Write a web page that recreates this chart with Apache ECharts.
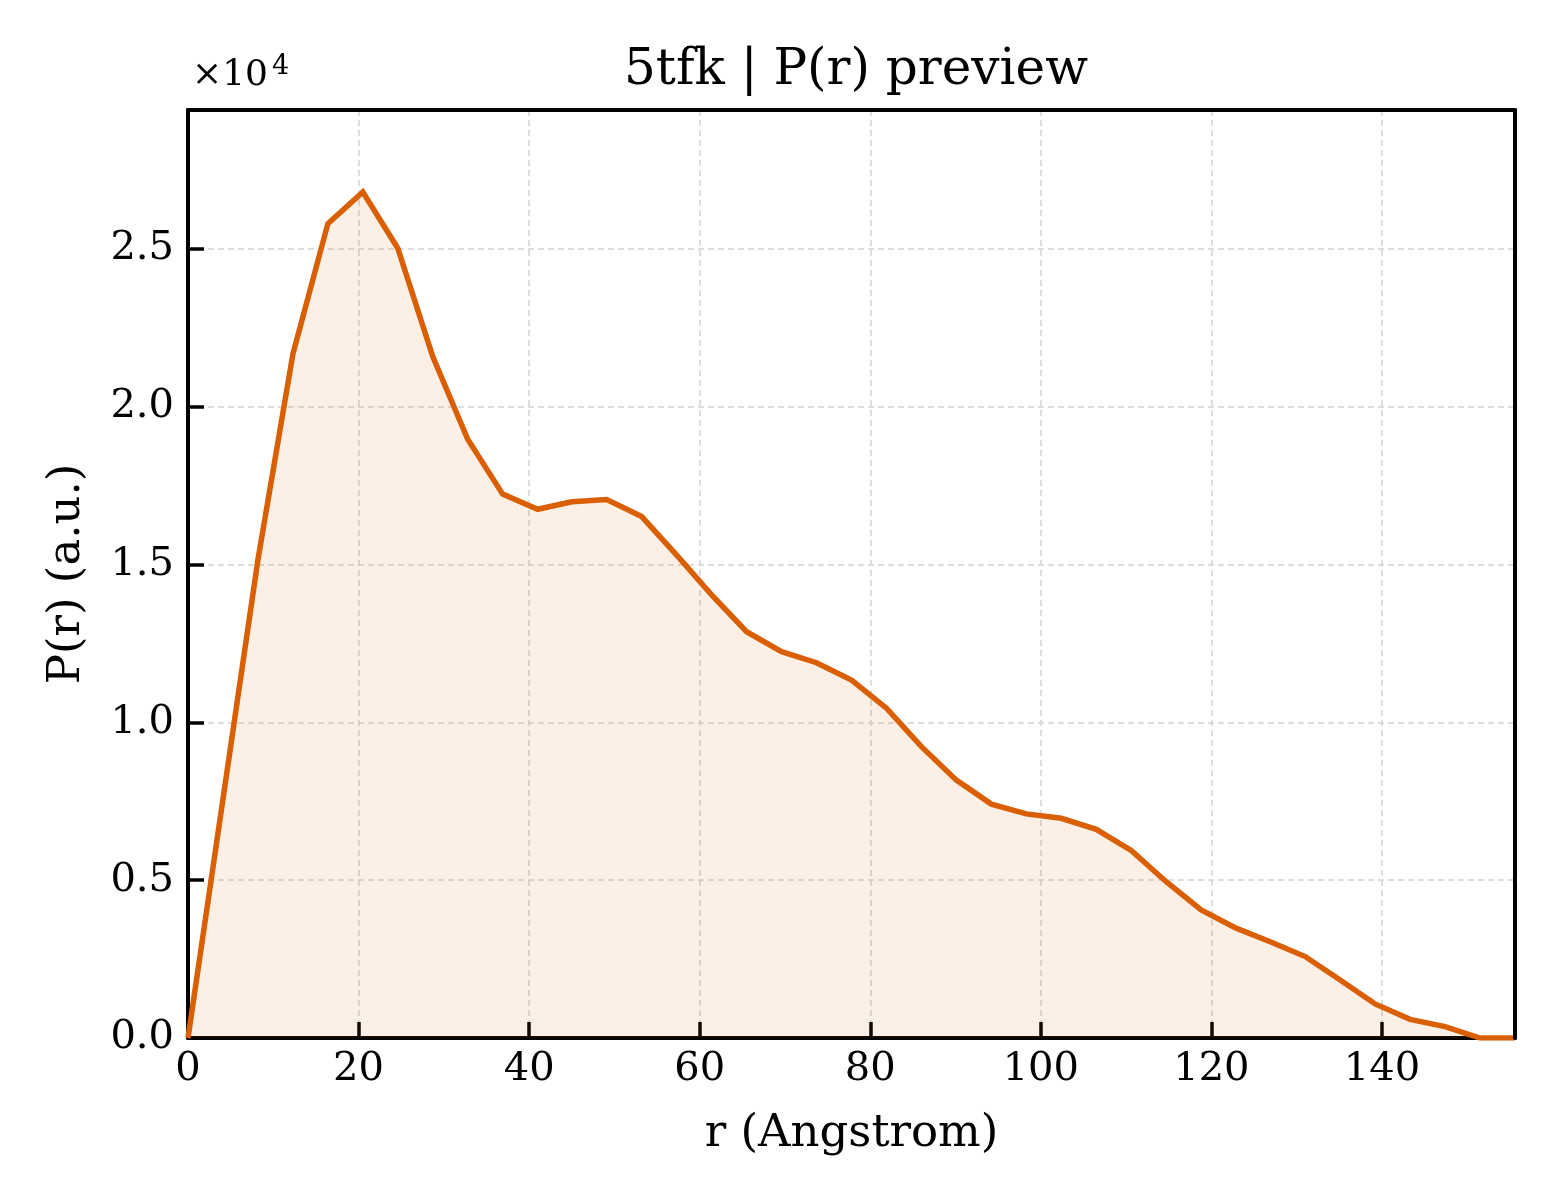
<!DOCTYPE html>
<html>
<head>
<meta charset="utf-8">
<title>5tfk | P(r) preview</title>
<script src="https://cdn.jsdelivr.net/npm/echarts@6/dist/echarts.min.js"></script>
<style>
    html, body { margin: 0; padding: 0; background: #fff; }
    #chart { width: 1560px; height: 1200px; }
</style>
</head>
<body>
<div id="chart"></div>
<script>
// r (Angstrom) and P(r)
var rValues = [0, 4.1, 8.2, 12.3, 16.4, 20.5, 24.6, 28.7, 32.8, 36.9,
    41.0, 45.0, 49.1, 53.2, 57.3, 61.4, 65.5, 69.6, 73.7, 77.8,
    81.9, 86.0, 90.1, 94.2, 98.3, 102.4, 106.5, 110.6, 114.7, 118.8,
    122.9, 126.9, 131.0, 135.1, 139.2, 143.3, 147.4, 151.5, 155.6];
var prValues = [0, 7570, 15150, 21670, 25800, 26800, 25020, 21590, 18970, 17230,
    16750, 16990, 17060, 16520, 15300, 14040, 12870, 12240, 11890, 11340,
    10450, 9230, 8170, 7410, 7100, 6960, 6610, 5940, 4950, 4060,
    3480, 3050, 2580, 1840, 1080, 590, 360, 0, 0];
var xTicks = [0, 20, 40, 60, 80, 100, 120, 140];
var yTicks = [0, 5000, 10000, 15000, 20000, 25000];

var serif = '"DejaVu Serif", serif';
var lineColor = '#d95f02';

var chart = echarts.init(document.getElementById('chart'));

var points = rValues.map(function (r, i) { return [r, prValues[i]]; });

// plain spine used for the top and right edges of the box
function spineAxis(extra) {
    var a = {
        type: 'value',
        min: 0,
        z: 10,
        axisLine: { show: true, onZero: false, lineStyle: { color: '#000', width: 4 } },
        axisTick: { show: false },
        axisLabel: { show: false },
        splitLine: { show: false }
    };
    for (var k in extra) a[k] = extra[k];
    return a;
}

var option = {
    backgroundColor: '#ffffff',
    animation: false,
    title: {
        text: '5tfk | P(r) preview',
        left: 851,
        top: 41,
        textAlign: 'center',
        textStyle: { fontFamily: serif, fontWeight: 'normal', fontSize: 50, color: '#000' }
    },
    graphic: [{
        type: 'text',
        style: { text: '×10', x: 192, y: 76, font: '36px ' + serif, fill: '#000', verticalAlign: 'middle' }
    }, {
        type: 'text',
        style: { text: '4', x: 272, y: 67, font: '27px ' + serif, fill: '#000', verticalAlign: 'middle' }
    }],
    grid: {
        left: 188,
        right: 45,
        top: 110,
        bottom: 162
    },
    xAxis: [{
        type: 'value',
        min: 0,
        max: 155.6,
        interval: 20,
        name: 'r (Angstrom)',
        nameLocation: 'middle',
        nameGap: 74,
        nameTextStyle: { fontFamily: serif, fontSize: 45, color: '#000' },
        axisLine: { show: true, onZero: false, lineStyle: { color: '#000', width: 4 } },
        axisTick: { show: true, inside: true, length: 16, lineStyle: { color: '#000', width: 3.5 } },
        axisLabel: {
            fontFamily: serif, fontSize: 40, color: '#000', margin: 12,
            showMaxLabel: false,
            formatter: function (v) { return xTicks.indexOf(v) >= 0 ? String(v) : ''; }
        },
        splitLine: { show: true, lineStyle: { color: '#d4d4d4', width: 1.5, type: [6, 4] } }
    }, spineAxis({ position: 'top', max: 155.6 })],
    yAxis: [{
        type: 'value',
        min: 0,
        max: 29400,
        interval: 5000,
        name: 'P(r) (a.u.)',
        nameLocation: 'middle',
        nameGap: 98,
        nameRotate: 90,
        nameTextStyle: { fontFamily: serif, fontSize: 45, color: '#000' },
        axisLine: { show: true, onZero: false, lineStyle: { color: '#000', width: 4 } },
        axisTick: { show: true, inside: true, length: 16, lineStyle: { color: '#000', width: 3.5 } },
        axisLabel: {
            fontFamily: serif, fontSize: 40, color: '#000', margin: 14,
            showMaxLabel: false,
            formatter: function (v) { return yTicks.indexOf(v) >= 0 ? (v / 10000).toFixed(1) : ''; }
        },
        splitLine: { show: true, lineStyle: { color: '#d4d4d4', width: 1.5, type: [6, 4] } }
    }, spineAxis({ position: 'right', max: 29400 })],
    series: [{
        type: 'line',
        data: points,
        showSymbol: false,
        symbol: 'none',
        lineStyle: { color: lineColor, width: 5.5, join: 'miter' },
        itemStyle: { color: lineColor },
        areaStyle: { color: 'rgba(217,95,2,0.14)', origin: 'start' }
    }]
};

chart.setOption(option);

window.addEventListener('resize', function () {
    chart.resize();
});
</script>
</body>
</html>
